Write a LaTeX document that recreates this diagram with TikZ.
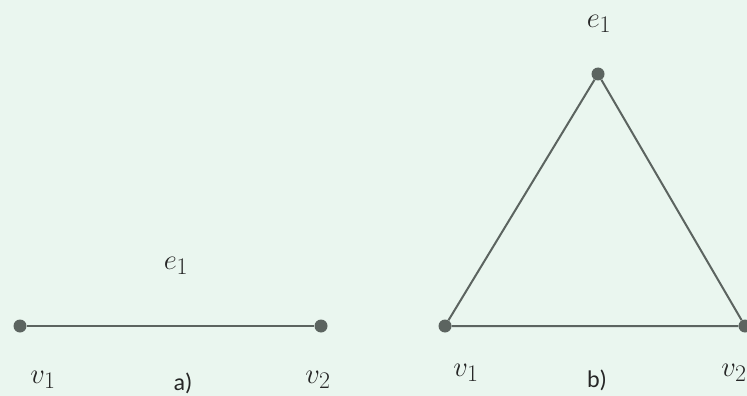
\documentclass[tikz,border=0pt]{standalone}
\usepackage{fontspec}
\newfontfamily\capfont{Carlito}
\definecolor{pagebg}{RGB}{234, 246, 239}
\definecolor{edgegray}{RGB}{92, 100, 96}
\usetikzlibrary{
    positioning,
    calc
}
\tikzset{
    vertex/.style={circle, fill=edgegray, inner sep=0pt, minimum size=13pt},
    edge/.style={draw=edgegray, line width=2pt},
    lbl/.style={font=\Huge, scale=1.15, text=black!85},
    caption/.style={font=\capfont\fontsize{24}{28}\selectfont, text=black!85}
}

\begin{document}
\begin{tikzpicture}[x=1pt, y=-1pt]
    % page
    \fill[pagebg] (0,0) rectangle (747,396);
    \useasboundingbox (0,0) rectangle (747,396);

    % a) single edge
    \node[vertex] (av1) at (20,326) {};
    \node[vertex] (av2) at (321,326) {};
    \draw[edge] (av1) -- (av2);
    \node[lbl] (ae1) at (176,266) {$e_1$};
    \node[lbl] (alv1) at (43,380) {$v_1$};
    \node[lbl] (alv2) at (318,380) {$v_2$};
    \node[caption] (acap) at (183,383) {a)};

    % b) triangle
    \node[vertex] (bt) at (598,74) {};
    \node[vertex] (bv1) at (445,326) {};
    \node[vertex] (bv2) at (745,326) {};
    \draw[edge] (bv1) -- (bt) -- (bv2) -- (bv1);
    \node[lbl] (be1) at (599,24) {$e_1$};
    \node[lbl] (blv1) at (466,373) {$v_1$};
    \node[lbl] (blv2) at (734,373) {$v_2$};
    \node[caption] (bcap) at (597,380) {b)};
\end{tikzpicture}
\end{document}
